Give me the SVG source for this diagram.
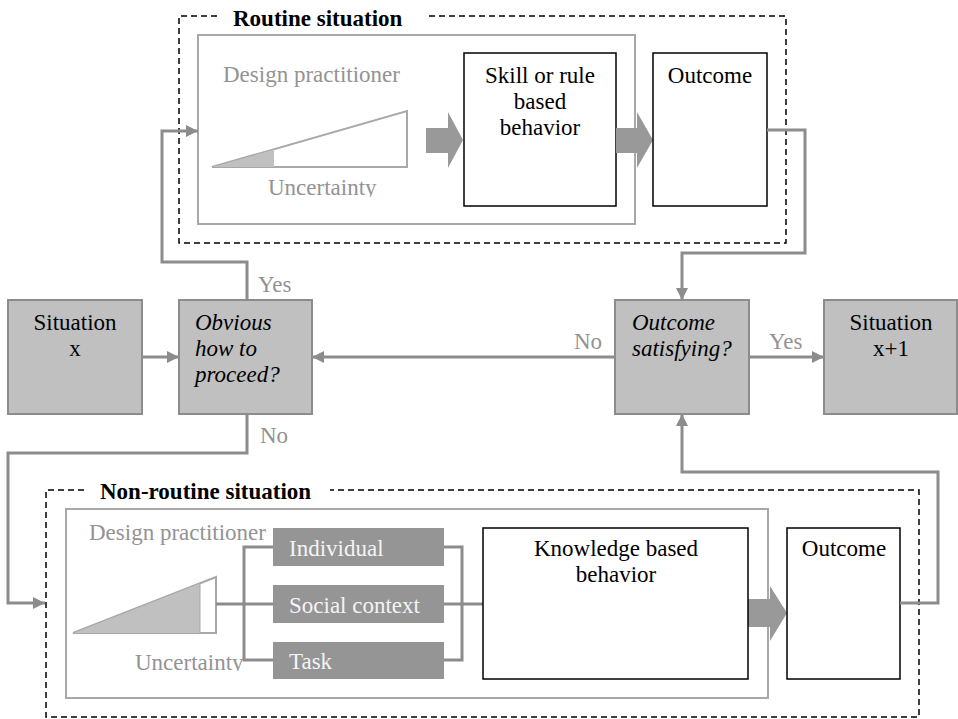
<svg xmlns="http://www.w3.org/2000/svg" width="958" height="719" viewBox="0 0 958 719">
<defs>
<style>
text{font-family:"Liberation Serif","Times New Roman",serif;font-size:23px}
.blk{fill:#000}
.gry{fill:#939393}
.wht{fill:#f4f4f4}
.it{font-style:italic}
.bold{font-weight:bold}
.mid{text-anchor:middle}
.dash{fill:none;stroke:#000;stroke-width:1.5;stroke-dasharray:6 4}
.inner{fill:none;stroke:#a8a8a8;stroke-width:2}
.wbox{fill:#fff;stroke:#000;stroke-width:1.5}
.gbox{fill:#c0c0c0;stroke:#8c8c8c;stroke-width:2}
.dbox{fill:#959595}
.con{fill:none;stroke:#8c8c8c;stroke-width:3}
.big{fill:#999}
.tri{fill:#fff;stroke:#a8a8a8;stroke-width:2}
.trif{fill:#c0c0c0}
</style>
<marker id="ah" viewBox="0 0 12 12" refX="12" refY="6" markerWidth="12" markerHeight="12" markerUnits="userSpaceOnUse" orient="auto">
<path d="M0,0 L12,6 L0,12 Z" fill="#8c8c8c"/>
</marker>
<clipPath id="c1"><rect x="0" y="0" width="958" height="197"/></clipPath>
<clipPath id="c2"><rect x="0" y="0" width="958" height="671"/></clipPath>
</defs>

<g id="routine">
<path class="dash" d="M217,16 H179 V243 H786 V16 H426"/>
<text class="blk bold" x="233" y="26">Routine situation</text>
<rect class="inner" x="198" y="35" width="437" height="189"/>
<text class="gry" x="223" y="82">Design practitioner</text>
<polygon class="tri" points="212,167 407,111 407,167"/>
<polygon class="trif" points="213,167 274,149.5 274,167"/>
<text class="gry" x="268" y="195" clip-path="url(#c1)">Uncertainty</text>
<polygon class="big" points="426,128 448,128 448,112 463,140 448,168 448,153 426,153"/>
</g>

<g id="skill">
<rect class="wbox" x="464" y="53" width="152" height="153"/>
<text class="blk mid" x="540" y="83">Skill or rule</text>
<text class="blk mid" x="540" y="109">based</text>
<text class="blk mid" x="540" y="135">behavior</text>
</g>
<polygon class="big" points="616,128 637,128 637,112 653,140 637,168 637,153 616,153"/>

<g id="outcome-top">
<rect class="wbox" x="653" y="53" width="114" height="153"/>
<text class="blk mid" x="710" y="83">Outcome</text>
</g>

<g id="situation-x">
<rect class="gbox" x="8" y="300" width="134" height="114"/>
<text class="blk mid" x="75" y="330">Situation</text>
<text class="blk mid" x="75" y="356">x</text>
</g>

<g id="obvious">
<rect class="gbox" x="179" y="300" width="133" height="114"/>
<text class="blk it" x="195" y="330">Obvious</text>
<text class="blk it" x="195" y="356">how to</text>
<text class="blk it" x="195" y="382">proceed?</text>
</g>

<g id="satisfying">
<rect class="gbox" x="615" y="300" width="134" height="114"/>
<text class="blk it" x="632" y="330">Outcome</text>
<text class="blk it" x="632" y="356">satisfying?</text>
</g>

<g id="situation-x1">
<rect class="gbox" x="824" y="300" width="133" height="114"/>
<text class="blk mid" x="891" y="330">Situation</text>
<text class="blk mid" x="891" y="356">x+1</text>
</g>

<g id="nonroutine">
<path class="dash" d="M84,490 H46 V717 H919 V490 H330"/>
<text class="blk bold" x="100" y="499">Non-routine situation</text>
<rect class="inner" x="66" y="509" width="702" height="189"/>
<text class="gry" x="89" y="540">Design practitioner</text>
<polygon class="tri" points="73,633 216,577 216,633"/>
<polygon class="trif" points="74,633 200,583.5 200,633"/>
<line x1="200" y1="583.5" x2="200" y2="633" stroke="#a8a8a8" stroke-width="1"/>
<text class="gry" x="135" y="670" clip-path="url(#c2)">Uncertainty</text>
<path class="con" d="M216,604 H244 M273,547 H244 V660 H273 M244,604 H273 M444,547 H462 V660 H444 M444,604 H483"/>
<polygon class="big" points="748,599 770,599 770,586 787,613 770,641 770,627 748,627"/>
</g>

<g id="individual">
<rect class="dbox" x="273" y="528" width="171" height="38"/>
<text class="wht" x="289" y="556">Individual</text>
</g>
<g id="social">
<rect class="dbox" x="273" y="585" width="171" height="38"/>
<text class="wht" x="289" y="613">Social context</text>
</g>
<g id="task">
<rect class="dbox" x="273" y="642" width="171" height="37"/>
<text class="wht" x="289" y="669">Task</text>
</g>

<g id="knowledge">
<rect class="wbox" x="483" y="528" width="265" height="151"/>
<text class="blk mid" x="616" y="556">Knowledge based</text>
<text class="blk mid" x="616" y="582">behavior</text>
</g>

<g id="outcome-bottom">
<rect class="wbox" x="787" y="528" width="113" height="151"/>
<text class="blk mid" x="844" y="556">Outcome</text>
</g>

<g id="connectors">
<line class="con" x1="142" y1="357" x2="179" y2="357" marker-end="url(#ah)"/>
<line class="con" x1="615" y1="357" x2="312" y2="357" marker-end="url(#ah)"/>
<line class="con" x1="749" y1="357" x2="824" y2="357" marker-end="url(#ah)"/>
<path class="con" d="M247,300 V262 H162 V131 H198" marker-end="url(#ah)"/>
<path class="con" d="M247,414 V453 H8 V603 H45" marker-end="url(#ah)"/>
<path class="con" d="M767,130 H805 V253 H682 V300" marker-end="url(#ah)"/>
<path class="con" d="M900,603 H938 V472 H682 V414" marker-end="url(#ah)"/>
<text class="gry" x="258" y="292">Yes</text>
<text class="gry" x="260" y="443">No</text>
<text class="gry" x="574" y="349">No</text>
<text class="gry" x="769" y="349">Yes</text>
</g>
</svg>
